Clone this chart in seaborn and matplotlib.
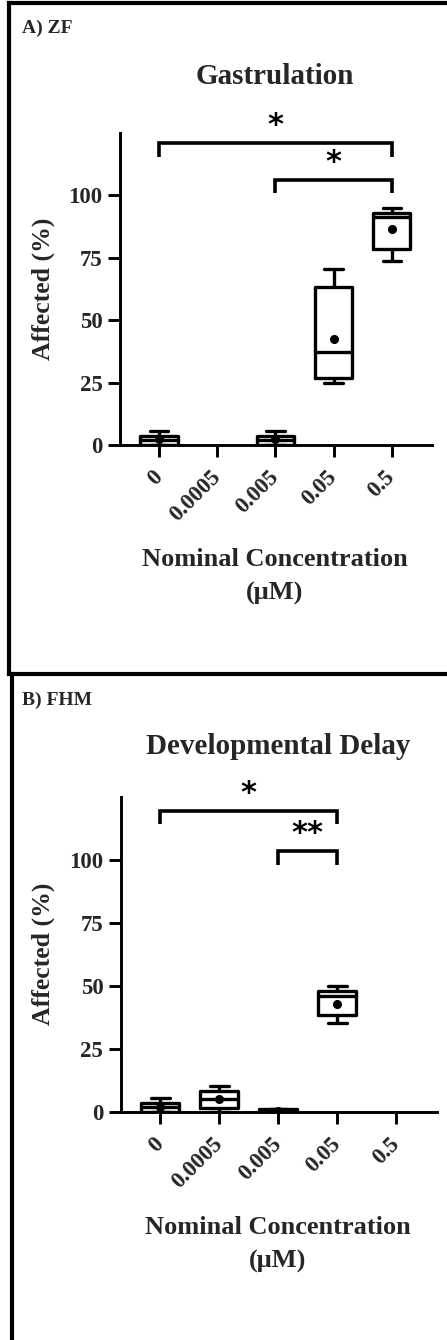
import matplotlib
matplotlib.use("Agg")
import matplotlib.pyplot as plt
import seaborn as sns
import pandas as pd
from matplotlib.lines import Line2D

# ---------------------------------------------------------------- data
concentrations = ["0", "0.0005", "0.005", "0.05", "0.5"]

# A) ZF - gastrulation, five-number summary per concentration (% affected)
zf_groups = ["0", "0.005", "0.05", "0.5"]
zf_min = [0.0, 0.0, 24.7, 73.7]
zf_q1 = [0.0, 0.0, 26.7, 78.4]
zf_median = [2.0, 2.0, 37.3, 91.3]
zf_q3 = [3.8, 3.8, 63.3, 93.0]
zf_max = [5.5, 5.5, 70.7, 95.0]
zf_mean = [2.3, 2.3, 42.4, 86.7]

# B) FHM - developmental delay
fhm_groups = ["0", "0.0005", "0.005", "0.05"]
fhm_min = [0.0, 0.0, 0.0, 35.1]
fhm_q1 = [0.0, 1.6, 0.0, 38.2]
fhm_median = [1.8, 5.0, 0.0, 46.0]
fhm_q3 = [3.6, 8.3, 1.0, 48.0]
fhm_max = [5.5, 10.3, 1.0, 50.0]
fhm_mean = [2.0, 5.0, 0.3, 42.8]

# significance brackets: (left group, right group, bar height, leg end, label)
zf_brackets = [("0", "0.5", 120.9, 115.2, "*"), ("0.005", "0.5", 106.0, 100.8, "*")]
fhm_brackets = [("0", "0.05", 119.4, 114.1, "*"), ("0.005", "0.05", 103.6, 97.8, "**")]

y_ticks = [0, 25, 50, 75, 100]


def long_frame(groups, *columns):
    rows = []
    for i, g in enumerate(groups):
        for col in columns:
            rows.append({"conc": g, "affected": col[i]})
    return pd.DataFrame(rows)


# ---------------------------------------------------------------- style
sns.set_theme(style="white")
plt.rcParams["font.family"] = ["Liberation Serif", "DejaVu Serif"]
plt.rcParams["font.weight"] = "bold"

W, H = 447, 1340
fig = plt.figure(figsize=(W / 100, H / 100), dpi=100)


def fx(px):
    return px / W


def fy(py):
    return 1 - py / H


def draw_panel(ax, groups, mins, q1s, meds, q3s, maxs, means, brackets):
    df = long_frame(groups, mins, q1s, meds, q3s, maxs)
    sns.boxplot(data=df, x="conc", y="affected", order=concentrations,
                whis=(0, 100), width=0.64, fill=False, color="black",
                linecolor="black", linewidth=2.4, showfliers=False, ax=ax)
    mdf = pd.DataFrame({"conc": groups, "mean": means})
    sns.pointplot(data=mdf, x="conc", y="mean", order=concentrations,
                  color="black", linestyle="none", markers="o",
                  markersize=4.5, errorbar=None, ax=ax)
    ax.set_xlim(-0.67, 4.69)
    ax.set_ylim(0, 125)
    ax.set_yticks(y_ticks)
    ax.set_xlabel("")
    ax.set_ylabel("")
    sns.despine(ax=ax)
    for side in ("left", "bottom"):
        ax.spines[side].set_linewidth(2.1)
        ax.spines[side].set_color("black")
    ax.tick_params(axis="both", which="major", direction="out", length=8.5,
                   width=2.1, color="black", labelsize=16.5, bottom=True, left=True)
    ax.tick_params(axis="y", pad=4)
    ax.tick_params(axis="x", pad=12.5)
    for lab in ax.get_xticklabels():
        lab.set_rotation(45)
        lab.set_ha("right")
        lab.set_va("center")
        lab.set_rotation_mode("anchor")
        lab.set_fontweight("bold")
    for lab in ax.get_yticklabels():
        lab.set_fontweight("bold")

    for left, right, bar, leg, label in brackets:
        x1 = concentrations.index(left)
        x2 = concentrations.index(right)
        ax.plot([x1, x1, x2, x2], [leg, bar, bar, leg], color="black",
                lw=2.6, clip_on=False, solid_joinstyle="miter",
                solid_capstyle="butt")
        ax.text((x1 + x2) / 2, bar + 1.2, label, ha="center", va="bottom",
                fontsize=22, family="DejaVu Sans", fontweight="bold",
                color="black")


# ---------------------------------------------------------------- panel A
ax_a = fig.add_axes([fx(120), fy(445), fx(312), 312 / H])
draw_panel(ax_a, zf_groups, zf_min, zf_q1, zf_median, zf_q3, zf_max,
           zf_mean, zf_brackets)

# ---------------------------------------------------------------- panel B
ax_b = fig.add_axes([fx(120.7), fy(1111.7), fx(316.3), 315 / H])
draw_panel(ax_b, fhm_groups, fhm_min, fhm_q1, fhm_median, fhm_q3, fhm_max,
           fhm_mean, fhm_brackets)

# ---------------------------------------------------------------- texts
fig.text(fx(22), fy(28), "A) ZF", ha="left", va="center", fontsize=14,
         fontweight="bold")
fig.text(fx(275), fy(77), "Gastrulation", ha="center", va="center",
         fontsize=21, fontweight="bold")
fig.text(fx(43), fy(289), "Affected (%)", ha="center", va="center",
         rotation=90, fontsize=18.5, fontweight="bold")
fig.text(fx(275), fy(560), "Nominal Concentration", ha="center",
         va="center", fontsize=19, fontweight="bold")
fig.text(fx(275), fy(593), "(\u03bcM)", ha="center", va="center",
         fontsize=19, fontweight="bold")

fig.text(fx(22), fy(700), "B) FHM", ha="left", va="center", fontsize=14,
         fontweight="bold")
fig.text(fx(278), fy(747), "Developmental Delay", ha="center", va="center",
         fontsize=21, fontweight="bold")
fig.text(fx(43), fy(954), "Affected (%)", ha="center", va="center",
         rotation=90, fontsize=18.5, fontweight="bold")
fig.text(fx(278), fy(1228), "Nominal Concentration", ha="center",
         va="center", fontsize=19, fontweight="bold")
fig.text(fx(278), fy(1261), "(\u03bcM)", ha="center", va="center",
         fontsize=19, fontweight="bold")

# ---------------------------------------------------------------- frames
frame_kw = dict(transform=fig.transFigure, color="black", lw=3.0,
                solid_capstyle="projecting")
fig.add_artist(Line2D([fx(9), fx(W + 5)], [fy(3.3), fy(3.3)], **frame_kw))
fig.add_artist(Line2D([fx(9), fx(9)], [fy(3.3), fy(674)], **frame_kw))
fig.add_artist(Line2D([fx(9), fx(W + 5)], [fy(674), fy(674)], **frame_kw))
fig.add_artist(Line2D([fx(12), fx(12)], [fy(674), fy(H + 5)], **frame_kw))

fig.savefig("out.png", dpi=100)
